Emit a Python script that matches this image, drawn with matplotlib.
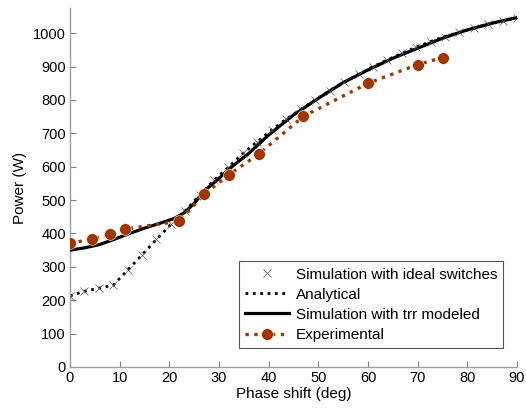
import matplotlib as mpl
mpl.use('Agg')
import matplotlib.pyplot as plt

# ------------------------------------------------------------------------------
# Data
# ------------------------------------------------------------------------------
phase_ideal = [0, 2.9, 5.8, 8.7, 11.6, 14.5, 17.4, 20.3, 23.2, 26.1, 29.0, 31.9,
               34.8, 37.7, 40.6, 43.5, 46.5, 49.4, 52.3, 55.2, 58.1, 61.0, 63.9,
               66.8, 69.7, 72.6, 75.5, 78.4, 81.3, 84.2, 87.1, 90]
power_ideal = [213, 227, 236, 245, 290, 336, 382, 427, 468, 515, 560, 598,
               640, 675, 710, 742, 772, 800, 828, 853, 877, 900, 920,
               940, 958, 975, 990, 1003, 1015, 1027, 1037, 1045]

# analytical curve sits on the ideal-switch points
phase_analytical = phase_ideal
power_analytical = [213, 227, 236, 245, 290, 336, 382, 427, 468, 515, 560, 598,
                    640, 675, 710, 742, 772, 800, 828, 853, 877, 900, 920,
                    940, 958, 975, 990, 1003, 1015, 1027, 1037, 1045]

phase_trr = [0, 3, 6, 9, 12, 15, 18, 21, 23, 25, 27, 30, 33, 36, 40, 45, 50,
             55, 60, 65, 70, 75, 80, 85, 90]
power_trr = [350, 357, 367, 383, 400, 416, 430, 445, 462, 490, 527, 565, 605,
             640, 695, 755, 805, 852, 890, 925, 955, 985, 1010, 1030, 1047]

phase_exp = [0, 4.5, 8, 11, 22, 27, 32, 38, 47, 60, 70, 75]
power_exp = [370, 384, 397, 413, 437, 517, 576, 638, 751, 850, 906, 927]

plt.rcParams['font.family'] = ['Liberation Sans', 'DejaVu Sans']

fig = plt.figure(figsize=(5.26, 4.08), dpi=100)
ax = fig.add_axes([0.133, 0.1005, 0.85, 0.8795])

exp_colour = '#A13600'

ax.plot(phase_ideal, power_ideal, linestyle='none', marker='x', ms=6,
        mew=0.5, color='#505050', label='Simulation with ideal switches', zorder=4)
ax.plot(phase_analytical, power_analytical, ':', linewidth=2.0, color='black',
        label='Analytical', zorder=2)
ax.plot(phase_trr, power_trr, '-', linewidth=2.3, color='black',
        label='Simulation with trr modeled', zorder=3)
ax.plot(phase_exp, power_exp, ':', linewidth=2.4, color=exp_colour,
        marker='o', ms=8.5, mfc=exp_colour, mec='white', mew=0.4,
        label='Experimental', zorder=5)

ax.set_xlim(0, 90)
ax.set_ylim(0, 1075)
ax.set_xticks(range(0, 91, 10))
ax.set_yticks(range(0, 1001, 100))
ax.set_xlabel('Phase shift (deg)', fontsize=11, labelpad=1)
ax.set_ylabel('Power (W)', fontsize=11, labelpad=4)

for side in ['top', 'right']:
    ax.spines[side].set_visible(False)
for side in ['left', 'bottom']:
    ax.spines[side].set_color('#a0a0a0')
    ax.spines[side].set_linewidth(1.0)
ax.tick_params(direction='in', length=4, width=0.8, color='#808080',
               labelsize=10.5, labelcolor='black', pad=3)

leg = ax.legend(loc='lower right', bbox_to_anchor=(0.969, 0.053), fontsize=11,
                fancybox=False, framealpha=1, edgecolor='#555555',
                borderpad=0.4, labelspacing=0.4, handlelength=2.9,
                handletextpad=0.4, borderaxespad=0)
leg.get_frame().set_linewidth(0.8)

fig.savefig('out.png', dpi=100)
